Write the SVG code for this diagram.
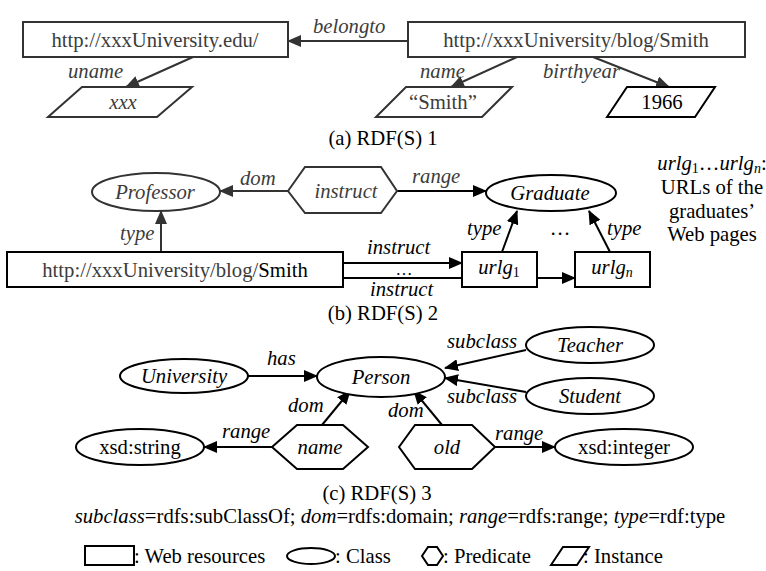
<svg xmlns="http://www.w3.org/2000/svg" width="766" height="571" viewBox="0 0 766 571" font-family="'Liberation Serif','Times New Roman',serif">
<style>
text{font-family:"Liberation Serif","Times New Roman",serif;font-size:20.7px;fill:#000}
.it{font-style:italic}
.g{fill:#3c3c3c}
.m{text-anchor:middle}
.sh{fill:#fff;stroke:#000;stroke-width:2}
.shg{fill:#fff;stroke:#333;stroke-width:2}
.ln{fill:none;stroke:#000;stroke-width:2}
.lng{fill:none;stroke:#333;stroke-width:2}
.sub{font-size:14px}
.dots{font-size:17px}
</style>
<defs>
<marker id="ah" markerUnits="userSpaceOnUse" markerWidth="14" markerHeight="12" refX="13" refY="6" orient="auto" viewBox="0 0 14 12">
<path d="M0,0 L14,6 L0,12 z" fill="#000"/>
</marker>
<marker id="ahg" markerUnits="userSpaceOnUse" markerWidth="14" markerHeight="12" refX="13" refY="6" orient="auto" viewBox="0 0 14 12">
<path d="M0,0 L14,6 L0,12 z" fill="#333"/>
</marker>
</defs>
<rect width="766" height="571" fill="#fff"/>

<g id="connectors">
<!-- (a) -->
<line class="lng" x1="408" y1="41" x2="288" y2="41" marker-end="url(#ahg)"/>
<line class="lng" x1="193" y1="57" x2="126" y2="87" marker-end="url(#ahg)"/>
<line class="lng" x1="517" y1="57" x2="451" y2="87" marker-end="url(#ahg)"/>
<line class="lng" x1="593" y1="57" x2="669" y2="87" marker-end="url(#ahg)"/>
<!-- (b) -->
<line class="lng" x1="288" y1="191" x2="220" y2="191" marker-end="url(#ahg)"/>
<line class="ln" x1="397" y1="191" x2="486" y2="191" marker-end="url(#ah)"/>
<line class="lng" x1="161" y1="252" x2="161" y2="211" marker-end="url(#ahg)"/>
<line class="ln" x1="502" y1="252" x2="517" y2="211" marker-end="url(#ah)"/>
<line class="ln" x1="610" y1="252" x2="589" y2="211" marker-end="url(#ah)"/>
<line class="ln" x1="343" y1="263" x2="462" y2="263" marker-end="url(#ah)"/>
<line class="ln" x1="343" y1="278" x2="575" y2="278" marker-end="url(#ah)"/>
<!-- (c) -->
<line class="ln" x1="248" y1="376" x2="317" y2="376" marker-end="url(#ah)"/>
<line class="ln" x1="526" y1="350" x2="445" y2="368" marker-end="url(#ah)"/>
<line class="ln" x1="526" y1="392" x2="445" y2="378" marker-end="url(#ah)"/>
<line class="ln" x1="322" y1="425" x2="350" y2="391" marker-end="url(#ah)"/>
<line class="ln" x1="442" y1="425" x2="414" y2="391" marker-end="url(#ah)"/>
<line class="ln" x1="272" y1="447" x2="204" y2="447" marker-end="url(#ah)"/>
<line class="ln" x1="495" y1="447" x2="555" y2="447" marker-end="url(#ah)"/>
</g>

<g id="edge-labels">
<text class="it g" x="313" y="33">belongto</text>
<text class="it g" x="68" y="78">uname</text>
<text class="it g" x="420" y="78">name</text>
<text class="it g" x="543" y="78">birthyear</text>
<text class="it g" x="240" y="185">dom</text>
<text class="it g" x="412" y="183">range</text>
<text class="it g" x="120" y="240">type</text>
<text class="it" x="467" y="235">type</text>
<text class="m" x="560" y="235">…</text>
<text class="it" x="607" y="235">type</text>
<text class="it" x="367" y="254">instruct</text>
<text class="m dots" x="404" y="275">…</text>
<text class="it" x="370" y="296">instruct</text>
<text class="it" x="267" y="365">has</text>
<text class="it" x="447" y="348">subclass</text>
<text class="it" x="447" y="403">subclass</text>
<text class="it" x="288" y="412">dom</text>
<text class="it" x="388" y="417">dom</text>
<text class="it" x="222" y="438">range</text>
<text class="it" x="495" y="440">range</text>
</g>

<!-- (a) nodes -->
<g id="a-edu"><rect class="shg" x="23" y="22" width="265" height="35"/><text class="m g" x="155" y="47">http://xxxUniversity.edu/</text></g>
<g id="a-smith"><rect class="shg" x="408" y="22" width="337" height="35"/><text class="m g" x="576" y="47">http://xxxUniversity/blog/Smith</text></g>
<g id="a-xxx"><polygon class="shg" points="48,117 82,87 192,87 157,117"/><text class="m it g" x="123" y="109">xxx</text></g>
<g id="a-smithlit"><polygon class="shg" points="376,117 406,87 512,87 482,117"/><text class="m g" x="443" y="109">“Smith”</text></g>
<g id="a-1966"><polygon class="sh" points="607,117 627,87 715,87 695,117"/><text class="m" x="662" y="109">1966</text></g>
<text class="m" x="383" y="145">(a) RDF(S) 1</text>

<!-- (b) nodes -->
<g id="b-professor"><ellipse class="shg" cx="156" cy="192" rx="64" ry="19"/><text class="m it g" x="155" y="199">Professor</text></g>
<g id="b-instruct"><polygon class="shg" points="288,191 305,167 381,167 397,191 381,213 305,213"/><text class="m it g" x="346" y="198">instruct</text></g>
<g id="b-graduate"><ellipse class="sh" cx="551" cy="193" rx="65" ry="18"/><text class="m it" x="550" y="200">Graduate</text></g>
<g id="b-smith"><rect class="sh" x="7" y="252" width="336" height="35"/><text class="m" x="175" y="277"><tspan class="g">http://xxxUniversity/blog/</tspan>Smith</text></g>
<g id="b-urlg1"><rect class="sh" x="462" y="252" width="75" height="35"/><text class="m" x="499" y="274"><tspan class="it">urlg</tspan><tspan class="sub" dy="3">1</tspan></text></g>
<g id="b-urlgn"><rect class="sh" x="575" y="252" width="75" height="35"/><text class="m" x="612" y="274"><tspan class="it">urlg</tspan><tspan class="sub it" dy="3">n</tspan></text></g>
<g id="b-note">
<text class="m" x="712" y="170"><tspan class="it">urlg</tspan><tspan class="sub" dy="3">1</tspan><tspan dy="-3">…</tspan><tspan class="it">urlg</tspan><tspan class="sub it" dy="3">n</tspan><tspan dy="-3">:</tspan></text>
<text class="m" x="712" y="194">URLs of the</text>
<text class="m" x="712" y="218">graduates’</text>
<text class="m" x="712" y="241">Web pages</text>
</g>
<text class="m" x="383" y="320">(b) RDF(S) 2</text>

<!-- (c) nodes -->
<g id="c-university"><ellipse class="sh" cx="184" cy="376" rx="64" ry="17"/><text class="m it" x="184" y="383">University</text></g>
<g id="c-person"><ellipse class="sh" cx="381" cy="377" rx="64" ry="20"/><text class="m it" x="381" y="384">Person</text></g>
<g id="c-teacher"><ellipse class="sh" cx="590" cy="345" rx="64" ry="18"/><text class="m it" x="590" y="352">Teacher</text></g>
<g id="c-student"><ellipse class="sh" cx="590" cy="396" rx="64" ry="18"/><text class="m it" x="590" y="403">Student</text></g>
<g id="c-name"><polygon class="sh" points="272,447 297,425 343,425 368,447 343,469 297,469"/><text class="m it" x="320" y="454">name</text></g>
<g id="c-old"><polygon class="sh" points="399,447 415,425 472,425 495,447 472,469 415,469"/><text class="m it" x="447" y="454">old</text></g>
<g id="c-xsdstring"><ellipse class="sh" cx="140" cy="447" rx="64" ry="18"/><text class="m" x="140" y="454">xsd:string</text></g>
<g id="c-xsdinteger"><ellipse class="sh" cx="624" cy="447" rx="69" ry="18"/><text class="m" x="624" y="454">xsd:integer</text></g>
<text class="m" x="377" y="500">(c) RDF(S) 3</text>

<!-- legend -->
<text class="m" x="400" y="523"><tspan class="it">subclass</tspan>=rdfs:subClassOf; <tspan class="it">dom</tspan>=rdfs:domain; <tspan class="it">range</tspan>=rdfs:range; <tspan class="it">type</tspan>=rdf:type</text>
<g id="legend">
<rect class="sh" x="85" y="546" width="49" height="19"/>
<text x="134" y="563">: Web resources</text>
<ellipse class="sh" cx="311" cy="556" rx="24" ry="8"/>
<text x="335" y="563">: Class</text>
<polygon class="sh" points="422,556 428,547 437,547 443,556 437,565 428,565"/>
<text x="443" y="563">: Predicate</text>
<polygon class="sh" points="551,565 563,547 589,547 577,565"/>
<text x="583" y="563">: Instance</text>
</g>
</svg>
